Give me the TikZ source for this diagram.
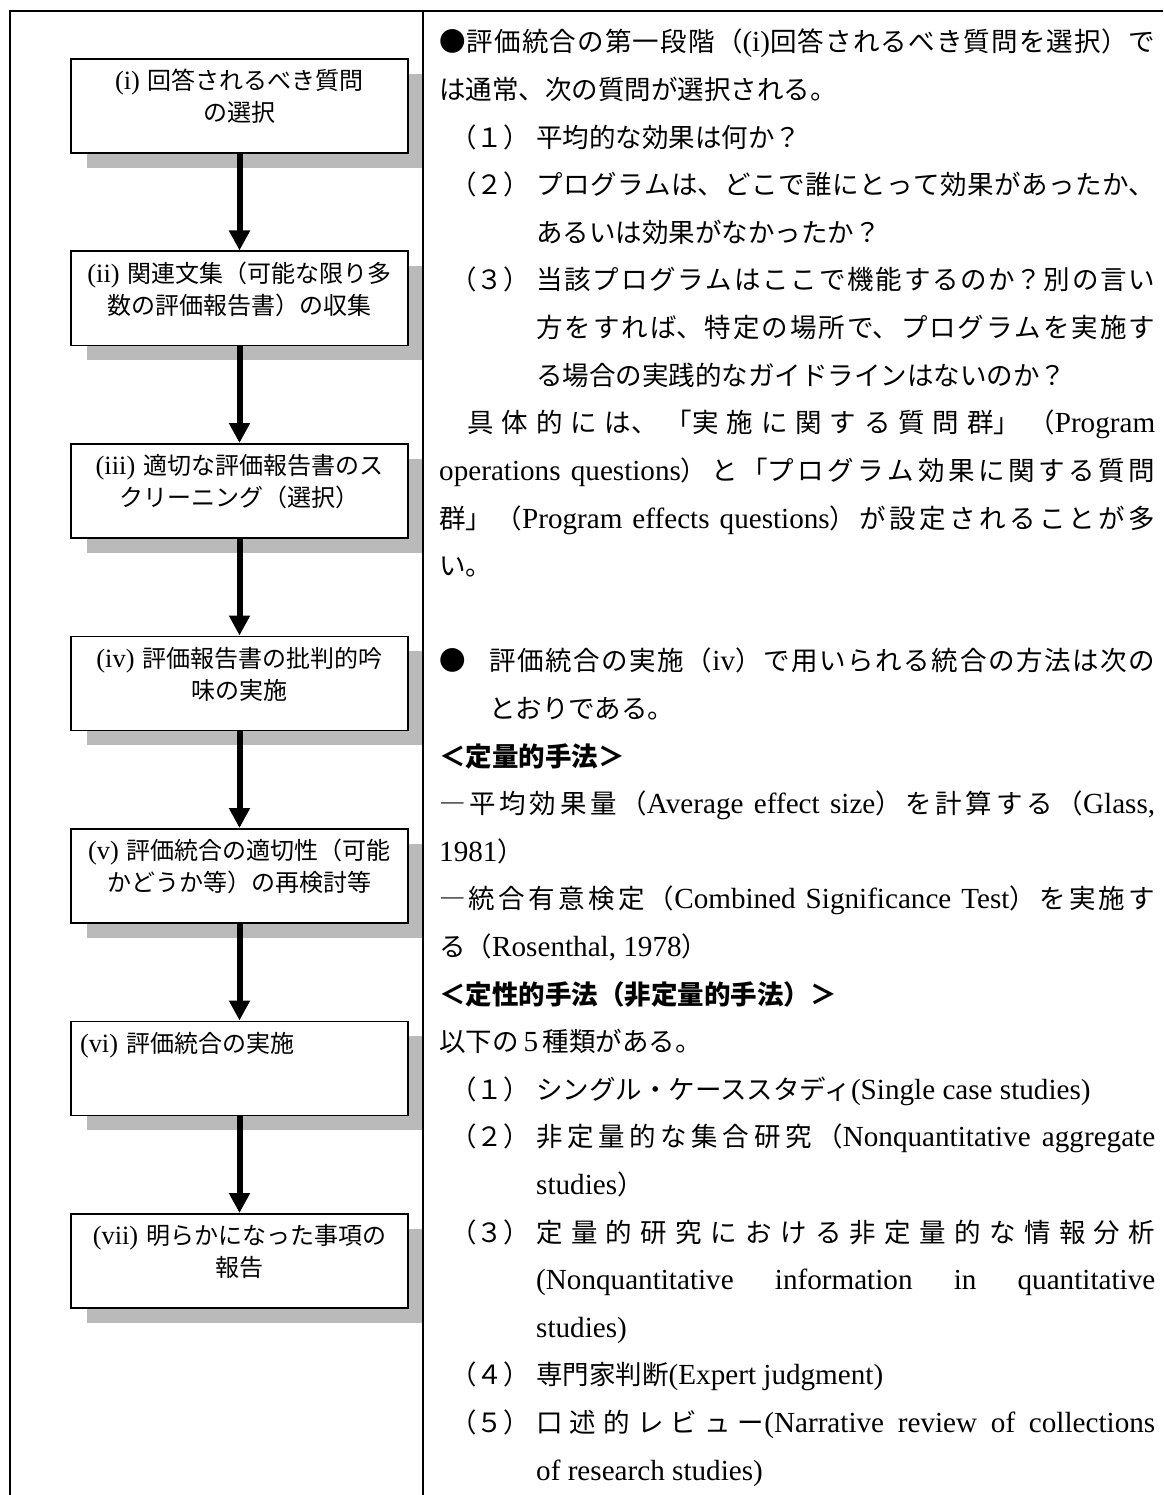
\documentclass[tikz,border=0pt]{standalone}
\usepackage{fontspec}
\setmainfont{Noto Sans CJK JP}
\newfontfamily\lat[Scale=1.1]{Liberation Serif}
\usepackage{tikz}
\usetikzlibrary{positioning, arrows.meta, shadows}

\newcommand{\en}[1]{{\lat #1}}
\newcommand{\just}[2]{\parbox[b]{#1}{\XeTeXlinebreaklocale "ja"\XeTeXlinebreakskip=0pt plus 1fil\spaceskip=.25em plus 1fil\parfillskip=0pt\noindent #2}}

\begin{document}
\begin{tikzpicture}
        [x=1pt, y=-1pt,
         stepbox/.style={draw, line width=1.8pt, fill=white, text width=319pt, align=center,
                         inner xsep=9pt, inner ysep=9pt, text height=22pt, text depth=54pt,
                         anchor=north, font=\fontsize{24}{32}\selectfont,
                         drop shadow={shadow xshift=16pt, shadow yshift=-15pt, fill=black!27, opacity=1}},
         txt/.style={anchor=base west, inner sep=0pt, font=\fontsize{26.5}{32}\selectfont},
         frame/.style={line width=2.4pt},
         >={Triangle[width=20pt, length=20pt]}]
        \useasboundingbox (0,0) rectangle (1163,1495);

        % flow of steps
        \node[stepbox] (S1) at (239.5,58) {\en{(i)~}回答されるべき質問\\の選択};
        \node[stepbox] (S2) at (239.5,250.5) {\en{(ii)~}関連文集（可能な限り多\\数の評価報告書）の収集};
        \node[stepbox] (S3) at (239.5,443) {\en{(iii)~}適切な評価報告書のス\\クリーニング（選択）};
        \node[stepbox] (S4) at (239.5,635.5) {\en{(iv)~}評価報告書の批判的吟\\味の実施};
        \node[stepbox] (S5) at (239.5,828) {\en{(v)~}評価統合の適切性（可能\\かどうか等）の再検討等};
        \node[stepbox, align=left] (S6) at (239.5,1020.5) {\en{(vi)~}評価統合の実施};
        \node[stepbox] (S7) at (239.5,1213) {\en{(vii)~}明らかになった事項の\\報告};

        \path [->, line width=6pt] (S1) edge (S2) (S2) edge (S3) (S3) edge (S4)
              (S4) edge (S5) (S5) edge (S6) (S6) edge (S7);

        % frame
        \draw[frame] (10,1495) -- (10,11) -- (1163,11);
        \draw[frame] (423,11) -- (423,1495);

        % questions
        \node[txt] (t1) at (439,52) {\just{716pt}{●評価統合の第一段階（\en{(i)}回答されるべき質問を選択）で}};
        \node[txt] (t2) at (439,99.6) {は通常、次の質問が選択される。};
        \node[txt] (n1) at (450,147.2) {（１）};
        \node[txt] (t3) at (536,147.2) {平均的な効果は何か？};
        \node[txt] (n2) at (450,194.8) {（２）};
        \node[txt] (t4) at (536,194.8) {\just{619pt}{プログラムは、どこで誰にとって効果があったか、}};
        \node[txt] (t5) at (536,242.4) {あるいは効果がなかったか？};
        \node[txt] (n3) at (450,290) {（３）};
        \node[txt] (t6) at (536,290) {\just{619pt}{当該プログラムはここで機能するのか？別の言い}};
        \node[txt] (t7) at (536,337.6) {\just{619pt}{方をすれば、特定の場所で、プログラムを実施す}};
        \node[txt] (t8) at (536,385.2) {る場合の実践的なガイドラインはないのか？};
        \node[txt] (t9) at (467,432.8) {\just{688pt}{具体的には、「実施に関する質問群」（\en{Program}}};
        \node[txt] (t10) at (439,480.4) {\just{716pt}{\en{operations questions}）と「プログラム効果に関する質問}};
        \node[txt] (t11) at (439,528) {\just{716pt}{群」（\en{Program effects questions}）が設定されることが多}};
        \node[txt] (t12) at (439,575.6) {い。};

        % methods
        \node[txt] (b1) at (439,670.8) {●};
        \node[txt] (t14) at (489,670.8) {\just{666pt}{評価統合の実施（\en{iv}）で用いられる統合の方法は次の}};
        \node[txt] (t15) at (489,718.4) {とおりである。};
        \node[txt] (t16) at (439,766) {\bfseries ＜定量的手法＞};
        \node[txt] (t17) at (439,813.6) {\just{716pt}{―平均効果量（\en{Average effect size}）を計算する（\en{Glass,}}};
        \node[txt] (t18) at (439,861.2) {\en{1981}）};
        \node[txt] (t19) at (439,908.8) {\just{716pt}{―統合有意検定（\en{Combined Significance Test}）を実施す}};
        \node[txt] (t20) at (439,956.4) {る（\en{Rosenthal, 1978}）};
        \node[txt] (t21) at (439,1004) {\bfseries ＜定性的手法（非定量的手法）＞};
        \node[txt] (t22) at (439,1051.6) {以下の\en{\,5\,}種類がある。};
        \node[txt] (m1) at (450,1099.2) {（１）};
        \node[txt] (t23) at (536,1099.2) {シングル・ケーススタディ\en{(Single case studies)}};
        \node[txt] (m2) at (450,1146.8) {（２）};
        \node[txt] (t24) at (536,1146.8) {\just{619pt}{非定量的な集合研究（\en{Nonquantitative aggregate}}};
        \node[txt] (t25) at (536,1194.4) {\en{studies}）};
        \node[txt] (m3) at (450,1242) {（３）};
        \node[txt] (t26) at (536,1242) {\just{619pt}{定量的研究における非定量的な情報分析}};
        \node[txt] (t27) at (536,1289.6) {\just{619pt}{\en{(Nonquantitative information in quantitative}}};
        \node[txt] (t28) at (536,1337.2) {\en{studies)}};
        \node[txt] (m4) at (450,1384.8) {（４）};
        \node[txt] (t29) at (536,1384.8) {専門家判断\en{(Expert judgment)}};
        \node[txt] (m5) at (450,1432.4) {（５）};
        \node[txt] (t30) at (536,1432.4) {\just{619pt}{口述的レビュー\en{(Narrative review of collections}}};
        \node[txt] (t31) at (536,1480) {\en{of research studies)}};
    \end{tikzpicture}
\end{document}
